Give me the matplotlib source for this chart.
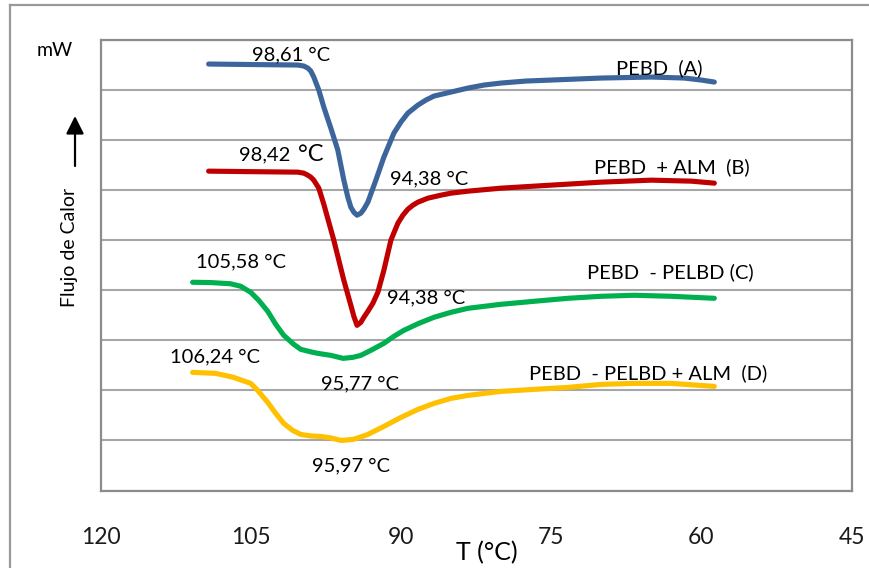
import matplotlib
matplotlib.use("Agg")
import matplotlib.pyplot as plt
from matplotlib.lines import Line2D
from matplotlib.patches import FancyArrowPatch

plt.rcParams['font.family'] = ['Lato', 'DejaVu Sans']

# DSC thermograms: temperature (°C) vs. heat flow (arbitrary mW offset)
t_a = [109.2, 105.0, 100.3, 99.7, 99.3, 99.0, 98.7, 98.2, 97.7, 97.0, 96.3, 95.7, 95.3, 95.0,
       94.7, 94.38, 94.0, 93.7, 93.3, 92.5, 91.7, 90.7, 90.0, 89.3, 88.3, 87.5, 86.7, 85.0,
       83.3, 81.7, 80.0, 77.5, 75.0, 70.0, 65.0, 61.7, 60.0, 58.7]
q_a = [42.6, 42.55, 42.5, 42.4, 42.2, 41.9, 41.3, 40.0, 38.3, 36.2, 34.0, 31.0, 29.3, 28.3,
       27.8, 27.5, 27.7, 28.1, 28.8, 31.0, 33.3, 35.7, 36.8, 37.7, 38.5, 39.0, 39.4, 39.8,
       40.2, 40.5, 40.7, 40.9, 41.0, 41.2, 41.3, 41.2, 41.0, 40.8]

t_b = [109.2, 105.0, 100.3, 99.7, 99.3, 99.0, 98.7, 98.2, 97.7, 96.7, 95.7, 95.0, 94.7,
       94.38, 94.0, 93.7, 93.3, 92.8, 92.3, 91.7, 91.0, 90.3, 89.8, 89.3, 88.8, 88.3, 87.3,
       86.0, 85.0, 83.3, 80.0, 76.7, 70.0, 65.0, 61.0, 58.7]
q_b = [31.9, 31.85, 31.8, 31.7, 31.5, 31.3, 31.0, 30.2, 28.6, 25.0, 21.0, 18.5, 17.4,
       16.5, 16.8, 17.3, 17.9, 18.7, 19.8, 22.0, 25.0, 26.7, 27.5, 28.1, 28.5, 28.8, 29.2,
       29.5, 29.7, 29.9, 30.2, 30.4, 30.8, 31.0, 30.9, 30.7]

t_c = [110.8, 109.0, 107.0, 106.0, 105.0, 104.2, 103.3, 102.5, 101.7, 100.7, 100.0, 99.0,
       98.3, 97.0, 95.77, 94.8, 94.0, 93.0, 91.7, 90.7, 89.7, 88.2, 86.7, 85.0, 83.3, 80.0,
       76.7, 73.3, 70.0, 66.7, 63.0, 58.7]
q_c = [20.8, 20.77, 20.65, 20.4, 19.8, 19.0, 17.9, 16.6, 15.5, 14.6, 14.1, 13.85,
       13.7, 13.5, 13.2, 13.3, 13.5, 14.0, 14.7, 15.4, 16.0, 16.7, 17.3, 17.8, 18.2, 18.6,
       18.9, 19.2, 19.4, 19.5, 19.4, 19.2]

t_d = [110.8, 108.5, 106.7, 106.0, 105.0, 104.3, 103.3, 102.5, 101.7, 100.8, 100.0, 99.0,
       98.0, 97.0, 95.97, 94.8, 94.0, 93.3, 91.7, 90.0, 88.3, 86.7, 85.0, 83.3, 80.0, 76.7,
       73.3, 70.0, 66.7, 63.0, 58.7]
q_d = [11.8, 11.7, 11.3, 11.05, 10.7, 10.0, 8.8, 7.7, 6.7, 6.0, 5.6, 5.45,
       5.4, 5.25, 5.0, 5.1, 5.35, 5.6, 6.4, 7.3, 8.1, 8.7, 9.2, 9.5, 9.9, 10.1,
       10.3, 10.6, 10.7, 10.7, 10.4]

series_names = ["PEBD  (A)", "PEBD  + ALM  (B)", "PEBD  - PELBD (C)", "PEBD  - PELBD + ALM  (D)"]
series_colors = ["#3C659B", "#C00000", "#00B050", "#FFC000"]

x_ticks = [120, 105, 90, 75, 60, 45]
y_grid = [0, 5, 10, 15, 20, 25, 30, 35, 40, 45]

W, H = 869, 568
fig = plt.figure(figsize=(W / 100, H / 100), dpi=100)
ax = fig.add_axes([100.5 / W, 1 - 490.5 / H, 751 / W, 450.5 / H])

for t, q, c in zip([t_a, t_b, t_c, t_d], [q_a, q_b, q_c, q_d], series_colors):
    ax.plot(t, q, color=c, lw=3.7, solid_capstyle='round', solid_joinstyle='round', zorder=3)

ax.set_xlim(120, 45)
ax.set_ylim(0, 45)
ax.set_xticks(x_ticks)
ax.set_xticklabels([str(v) for v in x_ticks], fontsize=16.5, color='#1a1a1a')
ax.tick_params(axis='x', length=0, pad=26)
ax.set_yticks(y_grid)
ax.set_yticklabels([])
ax.tick_params(axis='y', length=0)
ax.grid(axis='y', color='#a6a6a6', lw=1.5, zorder=1)
for s in ax.spines.values():
    s.set_color('#8c8c8c')
    s.set_linewidth(1.6)

# peak / onset temperature annotations
fs = 14.5
ax.text(101.0, 43.5, "98,61 °C", fontsize=fs, ha='center', va='center')
ax.text(101.0, 33.5, "98,42", fontsize=fs, ha='right', va='center')
ax.text(100.3, 33.6, "°C", fontsize=17, ha='left', va='center')
ax.text(87.2, 31.1, "94,38 °C", fontsize=fs, ha='center', va='center')
ax.text(87.5, 19.2, "94,38 °C", fontsize=fs, ha='center', va='center')
ax.text(106.0, 22.8, "105,58 °C", fontsize=fs, ha='center', va='center')
ax.text(108.6, 13.3, "106,24 °C", fontsize=fs, ha='center', va='center')
ax.text(94.1, 10.7, "95,77 °C", fontsize=fs, ha='center', va='center')
ax.text(95.0, 2.5, "95,97 °C", fontsize=fs, ha='center', va='center')

# curve names
name_pos = [(64.2, 42.2), (62.9, 32.3), (63.1, 21.8), (65.3, 11.7)]
for name, (tx, ty) in zip(series_names, name_pos):
    ax.text(tx, ty, name, fontsize=fs, ha='center', va='center')

# axis captions
fig.text(487 / W, 1 - 553 / H, "T (°C)", fontsize=18, ha='center', va='center')
fig.text(54.5 / W, 1 - 50 / H, "mW", fontsize=14, ha='center', va='center')
fig.text(70 / W, 1 - 247 / H, "Flujo de Calor", fontsize=14, rotation=90,
         ha='center', va='center')
fig.add_artist(FancyArrowPatch(
    (75 / W, 1 - 166 / H), (75 / W, 1 - 116 / H), transform=fig.transFigure,
    arrowstyle='-|>,head_length=0.9,head_width=0.45', mutation_scale=12,
    color='black', lw=1.6, shrinkA=0, shrinkB=0))

# chart frame
fc = '#999999'
fig.add_artist(Line2D([10 / W, 10 / W], [0, 1 - 5 / H], color=fc, lw=1.6,
                      transform=fig.transFigure))
fig.add_artist(Line2D([10 / W, 1], [1 - 5 / H, 1 - 5 / H], color=fc, lw=1.6,
                      transform=fig.transFigure))

fig.savefig("out.png", dpi=100)
